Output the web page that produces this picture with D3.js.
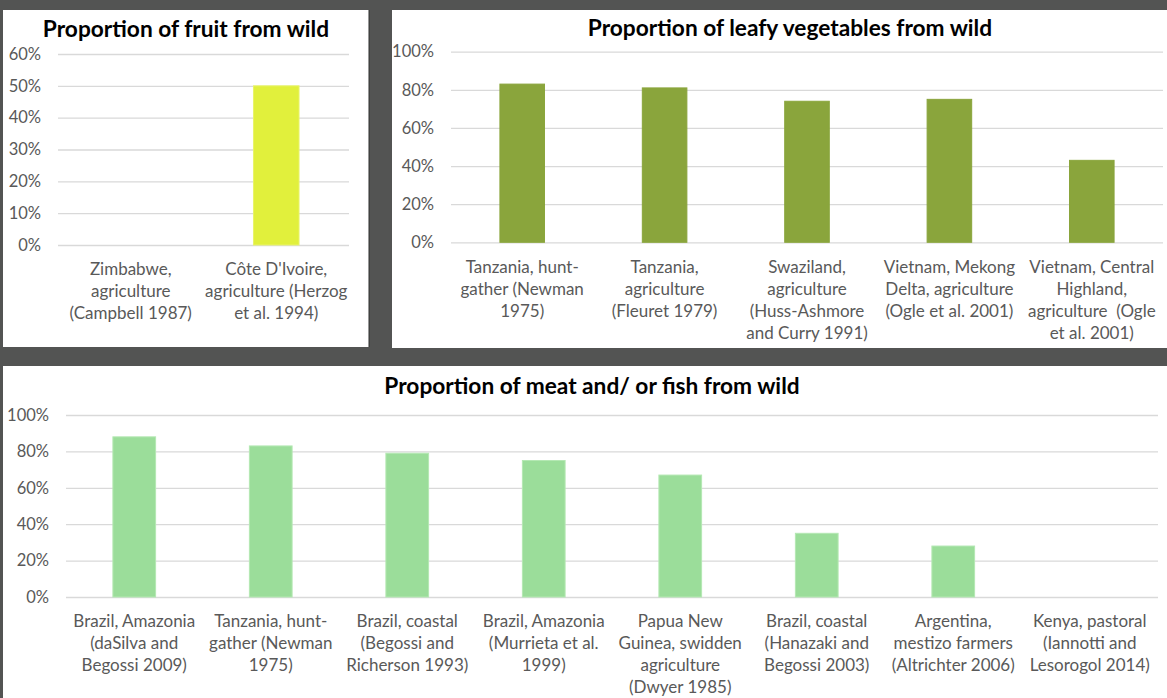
<!DOCTYPE html>
<html>
<head>
<meta charset="utf-8">
<script src="https://cdn.jsdelivr.net/npm/d3@7"></script>
<style>
  html, body { margin: 0; padding: 0; background: #535453; }
  svg { display: block; }
  text { font-family: Lato, "Open Sans", sans-serif; }
</style>
</head>
<body>
<svg id="chart" width="1167" height="698"></svg>
<script>
// ---------- DATA ----------
const fruitTitle = "Proportion of fruit from wild";
const fruitCategories = [
  "Zimbabwe,\nagriculture\n(Campbell 1987)",
  "Côte D'Ivoire,\nagriculture (Herzog\net al. 1994)"
];
const fruitValues = [0, 0.50];
const fruitTicks = [0, 0.1, 0.2, 0.3, 0.4, 0.5, 0.6];

const leafyTitle = "Proportion of leafy vegetables from wild";
const leafyCategories = [
  "Tanzania, hunt-\ngather (Newman\n1975)",
  "Tanzania,\nagriculture\n(Fleuret 1979)",
  "Swaziland,\nagriculture\n(Huss-Ashmore\nand Curry 1991)",
  "Vietnam, Mekong\nDelta, agriculture\n(Ogle et al. 2001)",
  "Vietnam, Central\nHighland,\nagriculture  (Ogle\net al. 2001)"
];
const leafyValues = [0.83, 0.81, 0.74, 0.75, 0.43];
const leafyTicks = [0, 0.2, 0.4, 0.6, 0.8, 1.0];

const meatTitle = "Proportion of meat and/ or fish from wild";
const meatCategories = [
  "Brazil, Amazonia\n(daSilva and\nBegossi 2009)",
  "Tanzania, hunt-\ngather (Newman\n1975)",
  "Brazil, coastal\n(Begossi and\nRicherson 1993)",
  "Brazil, Amazonia\n(Murrieta et al.\n1999)",
  "Papua New\nGuinea, swidden\nagriculture\n(Dwyer 1985)",
  "Brazil, coastal\n(Hanazaki and\nBegossi 2003)",
  "Argentina,\nmestizo farmers\n(Altrichter 2006)",
  "Kenya, pastoral\n(Iannotti and\nLesorogol 2014)"
];
const meatValues = [0.88, 0.83, 0.79, 0.75, 0.67, 0.35, 0.28, 0];
const meatTicks = [0, 0.2, 0.4, 0.6, 0.8, 1.0];

// ---------- LAYOUT ----------
const svg = d3.select("#chart");
svg.append("rect").attr("width", 1167).attr("height", 698).attr("fill", "#535453");

const panels = [
  { title: fruitTitle, cats: fruitCategories, vals: fruitValues, ticks: fruitTicks,
    color: "#e1f03c", stroke: "#e8f46a",
    box: [3, 10, 366, 337], plot: { x0: 58, x1: 349, yTop: 54, yBot: 245 }, titleX: 186, titleY: 37 },
  { title: leafyTitle, cats: leafyCategories, vals: leafyValues, ticks: leafyTicks,
    color: "#8aa53c", stroke: "#8aa53c",
    box: [392, 10, 775, 338], plot: { x0: 451, x1: 1163, yTop: 51.7, yBot: 242.3 }, titleX: 790, titleY: 36 },
  { title: meatTitle, cats: meatCategories, vals: meatValues, ticks: meatTicks,
    color: "#9bdd9a", stroke: "#b4e8b3",
    box: [3, 366, 1164, 332], plot: { x0: 66, x1: 1158, yTop: 415, yBot: 597 }, titleX: 592, titleY: 394 }
];

panels.forEach((p, pi) => {
  const g = svg.append("g");
  g.append("rect")
    .attr("x", p.box[0]).attr("y", p.box[1])
    .attr("width", p.box[2]).attr("height", p.box[3])
    .attr("fill", "#ffffff");
  if (pi === 0) {
    g.append("line").attr("x1", p.box[0] + p.box[2]).attr("x2", p.box[0] + p.box[2])
      .attr("y1", p.box[1]).attr("y2", p.box[1] + p.box[3])
      .attr("stroke", "#2e2e2e").attr("stroke-width", 1);
  }

  const x = d3.scaleBand().domain(p.cats).range([p.plot.x0, p.plot.x1]).paddingInner(0.687).paddingOuter(0.3435);
  const y = d3.scaleLinear().domain([0, d3.max(p.ticks)]).range([p.plot.yBot, p.plot.yTop]);

  // gridlines + y labels
  const yAxis = d3.axisLeft(y).tickValues(p.ticks).tickFormat(d3.format(".0%"))
    .tickSize(-(p.plot.x1 - p.plot.x0)).tickPadding(17);
  const ya = g.append("g").attr("transform", `translate(${p.plot.x0},0)`).call(yAxis);
  ya.select(".domain").remove();
  ya.selectAll(".tick line").attr("stroke", "#d9d9d9").attr("stroke-width", 1.3);
  ya.selectAll(".tick text").attr("fill", "#595959").style("font-size", "16.5px")
    .style("font-family", "Lato, sans-serif");

  // bars
  g.selectAll("rect.bar").data(p.cats).enter().append("rect")
    .attr("class", "bar")
    .attr("x", d => x(d))
    .attr("width", x.bandwidth())
    .attr("y", (d, i) => y(p.vals[i]))
    .attr("height", (d, i) => y(0) - y(p.vals[i]))
    .attr("fill", p.color)
    .attr("stroke", p.stroke).attr("stroke-width", (d, i) => p.vals[i] > 0 ? 1 : 0);

  // category labels
  const xa = g.append("g");
  p.cats.forEach(c => {
    const lines = c.split("\n");
    const t = xa.append("text")
      .attr("x", x(c) + x.bandwidth() / 2)
      .attr("y", p.plot.yBot + 24.5)
      .attr("text-anchor", "middle")
      .attr("fill", "#595959")
      .style("font-size", "17px");
    lines.forEach((ln, i) => {
      t.append("tspan").attr("x", x(c) + x.bandwidth() / 2)
        .attr("dy", i === 0 ? "0.35em" : "22px")
        .style("white-space", "pre")
        .text(ln);
    });
  });

  // title
  g.append("text")
    .attr("x", p.titleX).attr("y", p.titleY)
    .attr("text-anchor", "middle")
    .attr("fill", "#000000")
    .style("font-size", "22.7px").style("font-weight", "bold")
    .text(p.title);
});
</script>
</body>
</html>
